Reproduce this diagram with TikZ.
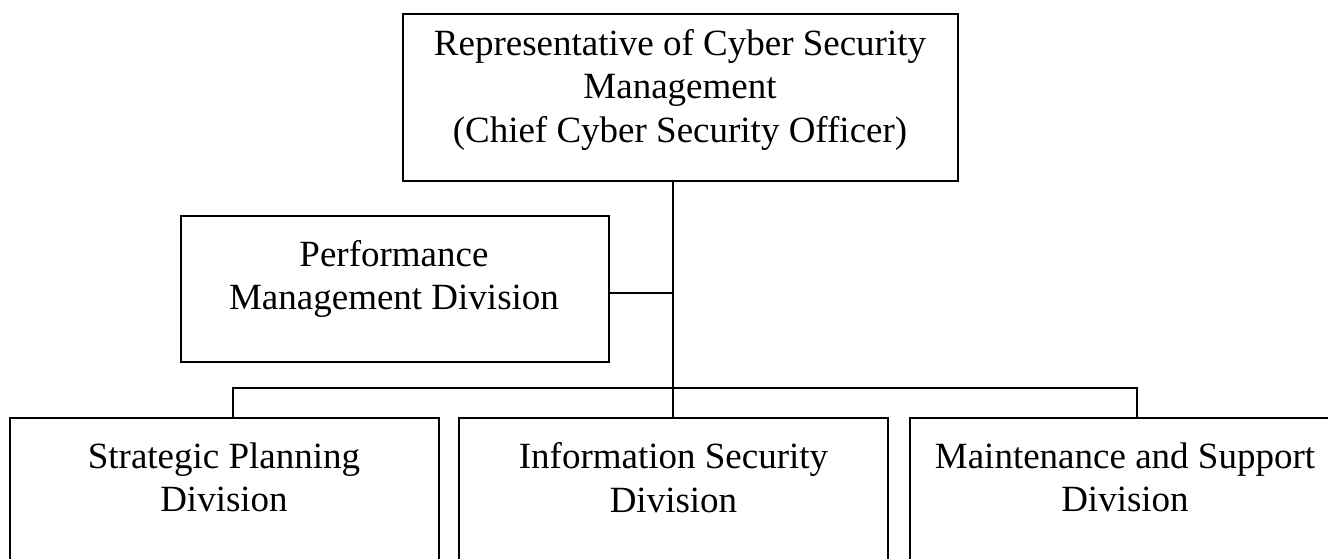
\documentclass[tikz,border=0pt]{standalone}
\usepackage{fontspec}
\setmainfont{Liberation Serif}
\begin{document}
\begin{tikzpicture}[x=1pt,y=-1pt,
  box/.style={draw=black, line width=1.8pt, inner sep=0pt, rectangle},
  txt/.style={align=center, inner sep=0pt, font=\fontsize{37}{43.5}\selectfont},
  link/.style={draw=black, line width=1.8pt}]
\useasboundingbox (0,0) rectangle (1328,558);
\clip (0,0) rectangle (1328,558);
% boxes
\node[box, minimum width=555pt, minimum height=167pt] (ccso) at (680.5,97.5) {};
\node[box, minimum width=428pt, minimum height=146pt] (perf) at (395,289) {};
\node[box, minimum width=429pt, minimum height=182pt] (spd) at (224.5,509) {};
\node[box, minimum width=429pt, minimum height=182pt] (isd) at (673.5,509) {};
\node[box, minimum width=429pt, minimum height=182pt] (msd) at (1124.5,509) {};
% texts
\node[txt] (ccsoT) at (680,89.5) {Representative of Cyber Security\\Management\\(Chief Cyber Security Officer)};
\node[txt] (perfT) at (394,279) {Performance\\Management Division};
\node[txt] (spdT) at (224,477.5) {Strategic Planning\\Division};
\node[txt] (isdT) at (673.5,477.5) {Information Security\\Division};
\node[txt] (msdT) at (1125,477.5) {Maintenance and Support\\Division};
% connectors
\coordinate (trunk) at (673,388);
\coordinate (tee) at (673,293);
\coordinate (barL) at (233,388);
\coordinate (barR) at (1137,388);
\draw[link] (ccso.south -| trunk) -- (trunk |- isd.north);
\draw[link] (tee -| perf.east) -- (tee);
\draw[link] (barL |- spd.north) -- (barL) -- (barR) -- (barR |- msd.north);
\end{tikzpicture}
\end{document}
